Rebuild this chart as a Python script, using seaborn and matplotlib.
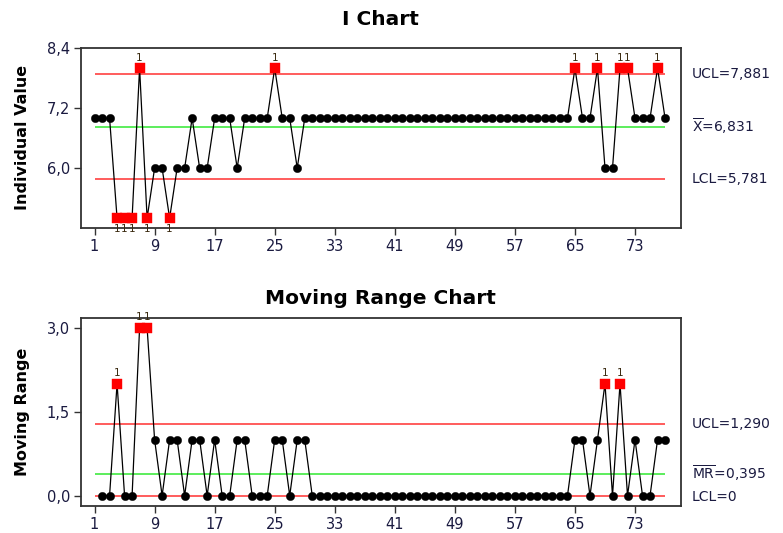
import matplotlib
matplotlib.use("Agg")
import matplotlib.pyplot as plt
import seaborn as sns
import numpy as np
import pandas as pd

# Individual observations (77 samples)
values = [7, 7, 7, 5, 5, 5, 8, 5, 6, 6, 5, 6, 6, 7, 6, 6, 7, 7, 7, 6,
          7, 7, 7, 7, 8, 7, 7, 6, 7, 7, 7, 7, 7, 7, 7, 7, 7, 7, 7, 7,
          7, 7, 7, 7, 7, 7, 7, 7, 7, 7, 7, 7, 7, 7, 7, 7, 7, 7, 7, 7,
          7, 7, 7, 7, 8, 7, 7, 8, 6, 6, 8, 8, 7, 7, 7, 8, 7]

# Control limits as reported
i_ucl, i_center, i_lcl = 7.881, 6.831, 5.781
mr_ucl, mr_center, mr_lcl = 1.290, 0.395, 0.0

x_ticks = [1, 9, 17, 25, 33, 41, 49, 57, 65, 73]
i_yticks = [6.0, 7.2, 8.4]
mr_yticks = [0.0, 1.5, 3.0]

obs = np.arange(1, len(values) + 1)
vals = np.array(values, dtype=float)
mr = np.abs(np.diff(vals))
mr_obs = obs[1:]

df_i = pd.DataFrame({"obs": obs, "value": vals})
df_i["flag"] = (df_i["value"] > i_ucl) | (df_i["value"] < i_lcl)
df_mr = pd.DataFrame({"obs": mr_obs, "value": mr})
df_mr["flag"] = df_mr["value"] > mr_ucl

sns.set_theme(style="white")
plt.rcParams["font.family"] = ["DejaVu Sans"]

fig = plt.figure(figsize=(7.83, 5.33), dpi=100)
ax1 = fig.add_axes([0.1035, 0.5730, 0.7660, 0.3375])
ax2 = fig.add_axes([0.1035, 0.0510, 0.7660, 0.3530])

def fmt(v, nd):
    return f"{v:.{nd}f}".replace(".", ",")

def draw(ax, df, ucl, center, lcl, ylim, yticks, ylabel, title, title_pad, labels):
    ax.hlines([ucl, lcl], 1, len(values), colors="#ff3030", lw=1.1, zorder=1)
    ax.hlines(center, 1, len(values), colors="#30e830", lw=1.1, zorder=1)
    sns.lineplot(data=df, x="obs", y="value", ax=ax, color="black", lw=0.9,
                 zorder=2, legend=False)
    ok = df[~df["flag"]]
    bad = df[df["flag"]]
    sns.scatterplot(data=ok, x="obs", y="value", ax=ax, color="black",
                    marker="o", s=36, edgecolor="black", linewidth=0.3, zorder=3,
                    legend=False)
    sns.scatterplot(data=bad, x="obs", y="value", ax=ax, color="#ff0000",
                    marker="s", s=55, edgecolor="#ff0000", linewidth=0.3, zorder=4,
                    legend=False)
    for _, r in bad.iterrows():
        if r["value"] > ucl:
            ax.annotate("1", (r["obs"], r["value"]), xytext=(0, 4),
                        textcoords="offset points", ha="center", va="bottom",
                        fontsize=7.5, color="#3a2a10")
        else:
            ax.annotate("1", (r["obs"], r["value"]), xytext=(0, -4),
                        textcoords="offset points", ha="center", va="top",
                        fontsize=7.5, color="#3a2a10")
    ax.set_xlim(-0.8, 79.1)
    ax.set_ylim(*ylim)
    ax.set_xticks(x_ticks)
    ax.set_xticklabels([str(t) for t in x_ticks])
    ax.set_yticks(yticks)
    ax.set_yticklabels([fmt(t, 1) for t in yticks])
    ax.tick_params(axis="both", direction="out", length=5, width=1,
                   color="#333333", labelsize=10.5, labelcolor="#1a1a40",
                   bottom=True, left=True, pad=3)
    ax.set_xlabel("")
    ax.set_ylabel(ylabel, fontsize=11.5, fontweight="bold", color="black",
                  labelpad=12)
    ax.set_title(title, fontsize=14.5, fontweight="bold", color="black",
                 pad=title_pad)
    for sp in ax.spines.values():
        sp.set_color("#333333")
        sp.set_linewidth(1.3)
    for y, txt in labels:
        ax.annotate(txt, xy=(1.0, y), xycoords=("axes fraction", "data"),
                    xytext=(8, 0), textcoords="offset points",
                    ha="left", va="center", fontsize=10, color="#1a1a40",
                    annotation_clip=False)

draw(ax1, df_i, i_ucl, i_center, i_lcl, (4.81, 8.41), i_yticks,
     "Individual Value", "I Chart", 16,
     [(i_ucl, "UCL=" + fmt(i_ucl, 3)),
      (i_center, r"$\overline{\mathregular{X}}$=" + fmt(i_center, 3)),
      (i_lcl, "LCL=" + fmt(i_lcl, 3))])
draw(ax2, df_mr, mr_ucl, mr_center, mr_lcl, (-0.18, 3.18), mr_yticks,
     "Moving Range", "Moving Range Chart", 10,
     [(mr_ucl, "UCL=" + fmt(mr_ucl, 3)),
      (mr_center, r"$\overline{\mathregular{MR}}$=" + fmt(mr_center, 3)),
      (mr_lcl - 0.02, "LCL=0")])

fig.savefig("out.png", dpi=100, facecolor="white")
